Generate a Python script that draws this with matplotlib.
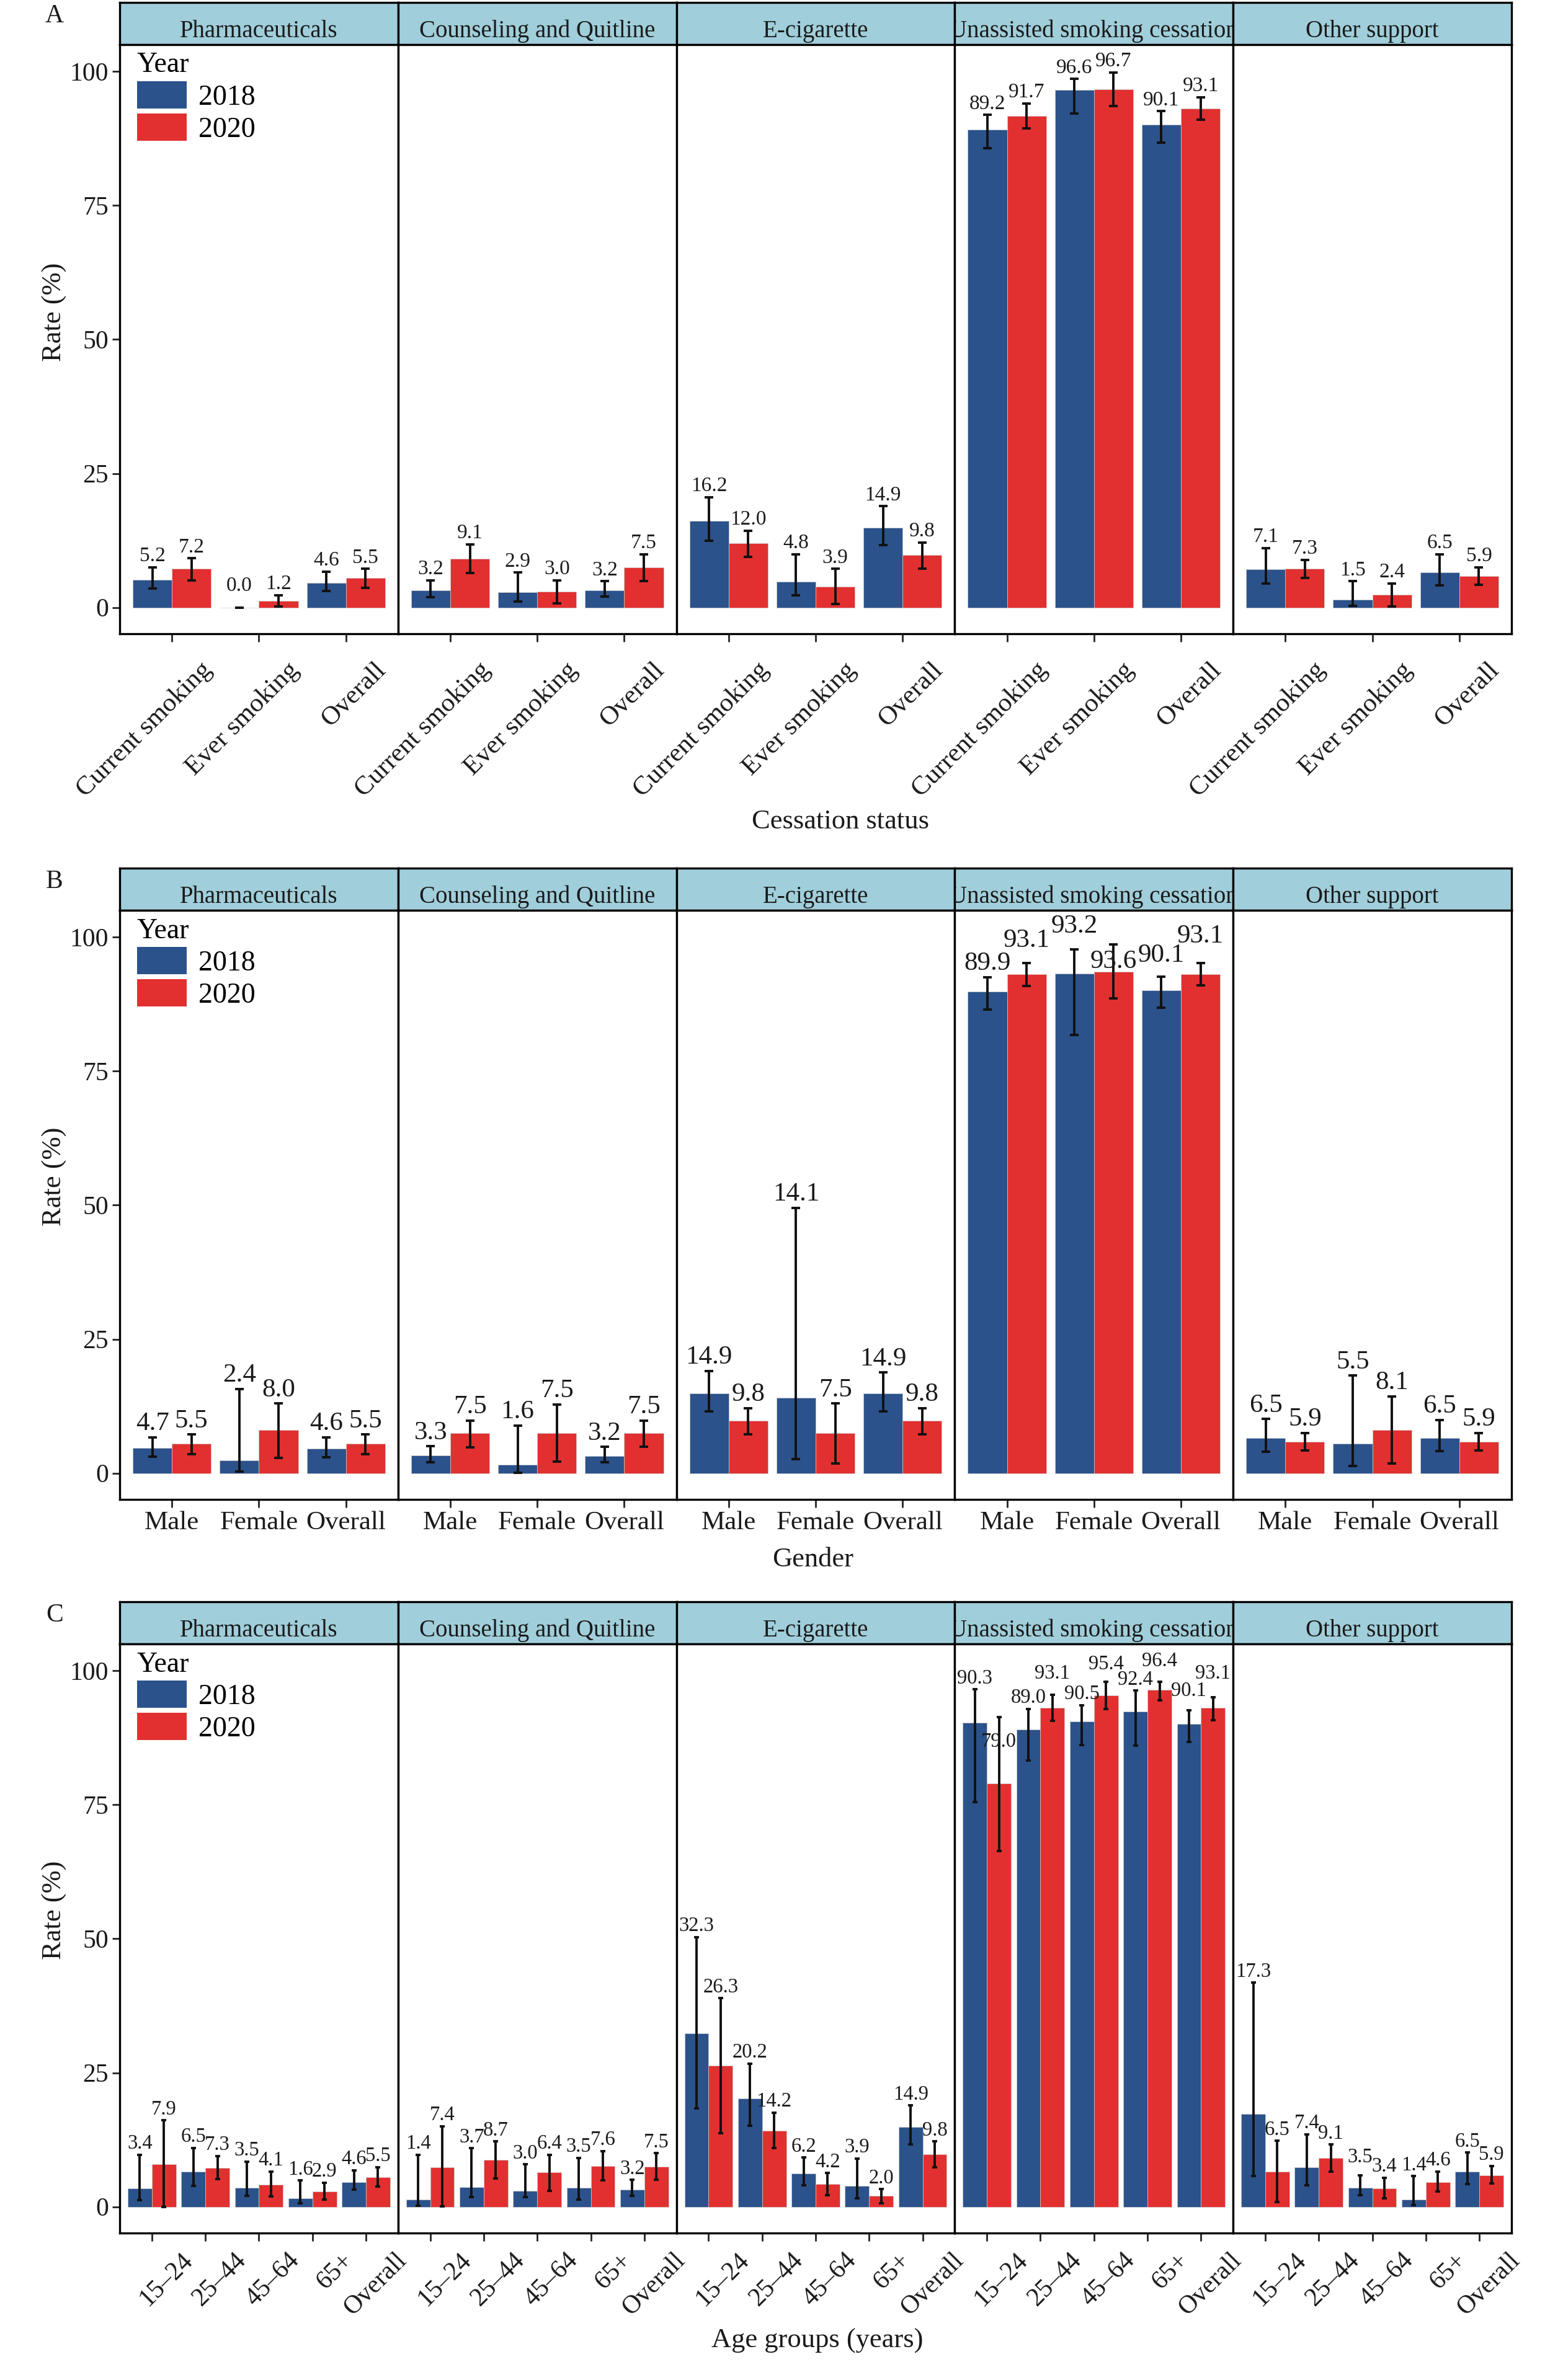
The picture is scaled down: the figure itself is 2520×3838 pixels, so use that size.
import matplotlib
matplotlib.use("Agg")
import matplotlib.pyplot as plt
from matplotlib.patches import Patch
from matplotlib.transforms import ScaledTranslation
import numpy as np

plt.rcParams['font.family'] = ['Liberation Serif', 'DejaVu Serif']

methods = ["Pharmaceuticals", "Counseling and Quitline", "E-cigarette",
           "Unassisted smoking cessation", "Other support"]
years = ["2018", "2020"]

status_labels = ["Current smoking", "Ever smoking", "Overall"]
gender_labels = ["Male", "Female", "Overall"]
age_labels = ["15\u201324", "25\u201344", "45\u201364", "65+", "Overall"]

# panel A: one row per method, one column per cessation status
a_rate_2018 = [[5.2, 0.0, 4.6], [3.2, 2.9, 3.2], [16.2, 4.8, 14.9], [89.2, 96.6, 90.1], [7.1, 1.5, 6.5]]
a_low_2018 = [[3.5, 0.0, 3.1], [1.9, 1.1, 2.0], [12.4, 2.3, 11.6], [85.7, 92.2, 86.7], [4.5, 0.3, 4.1]]
a_high_2018 = [[7.5, 0.0, 6.7], [5.1, 6.5, 4.9], [20.6, 9.9, 18.9], [91.9, 98.6, 92.6], [11.1, 4.9, 9.9]]
a_rate_2020 = [[7.2, 1.2, 5.5], [9.1, 3.0, 7.5], [12.0, 3.9, 9.8], [91.7, 96.7, 93.1], [7.3, 2.4, 5.9]]
a_low_2020 = [[5.1, 0.2, 3.7], [6.4, 0.8, 4.9], [9.5, 0.6, 7.3], [89.4, 93.6, 91.0], [5.5, 0.2, 4.2]]
a_high_2020 = [[9.2, 2.3, 7.2], [11.8, 5.1, 9.9], [14.3, 7.2, 12.1], [94.0, 99.8, 95.2], [8.9, 4.5, 7.5]]

# panel B: gender
b_rate_2018 = [[4.7, 2.4, 4.6], [3.3, 1.6, 3.2], [14.9, 14.1, 14.9], [89.9, 93.2, 90.1], [6.5, 5.5, 6.5]]
b_low_2018 = [[3.1, 0.3, 3.0], [2.0, 0.1, 2.0], [11.5, 2.6, 11.5], [86.5, 81.7, 86.8], [4.0, 1.4, 4.1]]
b_high_2018 = [[6.7, 15.7, 6.7], [5.0, 8.9, 4.9], [19.1, 49.5, 18.8], [92.5, 97.7, 92.6], [10.1, 18.2, 9.9]]
b_rate_2020 = [[5.5, 8.0, 5.5], [7.5, 7.5, 7.5], [9.8, 7.5, 9.8], [93.1, 93.6, 93.1], [5.9, 8.1, 5.9]]
b_low_2020 = [[3.6, 2.9, 3.6], [4.8, 2.1, 4.9], [7.3, 1.8, 7.3], [90.9, 88.6, 91.0], [4.2, 1.8, 4.2]]
b_high_2020 = [[7.2, 13.0, 7.2], [9.8, 12.8, 9.8], [12.1, 13.0, 12.1], [95.2, 98.6, 95.2], [7.5, 14.3, 7.5]]

# panel C: age groups
c_rate_2018 = [[3.4, 6.5, 3.5, 1.6, 4.6], [1.4, 3.7, 3.0, 3.5, 3.2], [32.3, 20.2, 6.2, 3.9, 14.9],
               [90.3, 89.0, 90.5, 92.4, 90.1], [17.3, 7.4, 3.5, 1.4, 6.5]]
c_low_2018 = [[1.2, 3.9, 2.0, 0.6, 3.2], [0.2, 1.8, 1.8, 1.3, 2.0], [18.3, 15.1, 4.0, 1.6, 11.6],
              [75.5, 83.2, 86.1, 86.0, 86.7], [5.7, 4.0, 2.1, 0.3, 4.2]]
c_high_2018 = [[9.7, 11.0, 8.4, 4.9, 6.8], [9.7, 10.9, 7.9, 9.1, 5.0], [50.3, 26.7, 9.2, 9.0, 18.9],
               [96.5, 92.9, 93.6, 96.3, 92.6], [41.8, 13.5, 5.9, 5.7, 10.1]]
c_rate_2020 = [[7.9, 7.3, 4.1, 2.9, 5.5], [7.4, 8.7, 6.4, 7.6, 7.5], [26.3, 14.2, 4.2, 2.0, 9.8],
               [79.0, 93.1, 95.4, 96.4, 93.1], [6.5, 9.1, 3.4, 4.6, 5.9]]
c_low_2020 = [[0.0, 5.2, 1.9, 1.3, 3.8], [0.1, 5.3, 3.0, 4.9, 5.0], [13.7, 10.9, 2.1, 0.7, 7.4],
              [66.4, 90.6, 92.8, 94.5, 90.8], [0.9, 6.6, 1.6, 2.9, 4.3]]
c_high_2020 = [[16.1, 9.5, 6.6, 4.5, 7.4], [15.0, 12.2, 9.7, 10.4, 10.0], [38.9, 17.6, 6.3, 3.3, 12.2],
               [91.4, 95.5, 97.9, 98.0, 95.1], [12.3, 11.6, 5.4, 6.6, 7.6]]

colors = ["#2B528B", "#E23030"]
strip_color = "#A0CEDA"

# labels the original pushed away from the error bar (panel, method, group, year) -> shift
label_nudge = {
    ("A", 0, 1, 0): 2.0,
    ("B", 3, 0, 1): 1.6, ("B", 3, 1, 0): 1.8, ("B", 3, 1, 1): -5.7,
    ("B", 3, 2, 0): 1.4, ("B", 3, 2, 1): 2.5,
    ("C", 3, 0, 1): -6.7, ("C", 3, 1, 1): 1.9, ("C", 3, 2, 1): 1.3,
    ("C", 3, 3, 1): 1.7, ("C", 3, 4, 0): 1.6, ("C", 3, 4, 1): 2.3,
    ("C", 4, 2, 0): 1.3,
}

W, H = 2520, 3838
fig = plt.figure(figsize=(W / 100, H / 100), dpi=100)
edges = np.linspace(193, 2437, 6)


def px_rect(x0, y0, x1, y1):
    return [x0 / W, 1 - y1 / H, (x1 - x0) / W, (y1 - y0) / H]


def draw_panel(top, groups, rates, lows, highs, letter, xlabel, xlabel_pos,
               ylabel_y, value_size, rot_style, cap):
    n = len(groups)
    xpos = np.arange(1, n + 1)
    plot_top = top + 68
    plot_bot = plot_top + 950
    for i, m in enumerate(methods):
        # facet strip
        sax = fig.add_axes(px_rect(edges[i], top, edges[i + 1], plot_top))
        sax.set_facecolor(strip_color)
        sax.set_xticks([])
        sax.set_yticks([])
        for s in sax.spines.values():
            s.set_linewidth(2.4)
        sax.text(0.5, 0.18, m, transform=sax.transAxes, ha='center', va='baseline',
                 fontsize=28, color='#1a1a1a', clip_on=True)

        ax = fig.add_axes(px_rect(edges[i], plot_top, edges[i + 1], plot_bot))
        for j in range(2):
            xs = xpos + (j - 0.5) * 0.45
            v = np.array(rates[j][i])
            lo = np.array(lows[j][i])
            hi = np.array(highs[j][i])
            ax.bar(xs, v, width=0.45, color=colors[j], edgecolor='#d0d0d0',
                   linewidth=0.5, zorder=2)
            ax.errorbar(xs, v, yerr=[v - lo, hi - v], fmt='none', ecolor='#111111',
                        elinewidth=2.8, capsize=cap, capthick=2.8, zorder=3)
            for k, (xx, vv, hh) in enumerate(zip(xs, v, hi)):
                dy = label_nudge.get((letter, i, k, j), 0.0)
                ax.text(xx, hh + 0.3 + dy, f"{vv:.1f}", ha='center', va='bottom',
                        fontsize=value_size, color='#1a1a1a', zorder=4)
        ax.set_xlim(0.4, n + 0.6)
        ax.set_ylim(-4.9, 105)
        for s in ax.spines.values():
            s.set_linewidth(2.4)
        ax.set_xticks(xpos)
        ax.tick_params(axis='x', length=9, width=2, color='#222222')
        if rot_style is not None:
            dx, dyy, fs = rot_style
            ax.set_xticklabels([])
            off = ScaledTranslation(dx, dyy, fig.dpi_scale_trans)
            for xx, g in zip(xpos, groups):
                ax.text(xx, 0, g, transform=ax.get_xaxis_transform() + off,
                        rotation=45, rotation_mode='anchor', ha='right', va='top',
                        fontsize=fs, color='#1a1a1a', clip_on=False)
        else:
            ax.set_xticklabels(groups, fontsize=31, color='#1a1a1a')
            ax.tick_params(axis='x', pad=4)
        if i == 0:
            ax.set_yticks([0, 25, 50, 75, 100])
            ax.set_yticklabels(["0", "25", "50", "75", "100"], fontsize=30,
                               color='#1a1a1a')
            ax.tick_params(axis='y', length=9, width=2, color='#222222', pad=4)
            handles = [Patch(facecolor=c, edgecolor='none') for c in colors]
            ax.legend(handles, years, title="Year", loc='upper left',
                      bbox_to_anchor=((221 - 193) / 449, 1 - 12 / 950),
                      frameon=False, fontsize=33, title_fontsize=33,
                      handlelength=1.75, handleheight=1.09,
                      labelspacing=0.1, handletextpad=0.4,
                      borderpad=0, borderaxespad=0, alignment='left')
        else:
            ax.set_yticks([])

    fig.text(88 / W, 1 - (top + 22) / H, letter, fontsize=30, ha='center',
             va='center', color='#1a1a1a')
    fig.text(88 / W, 1 - ylabel_y / H, "Rate (%)", rotation=90, fontsize=32,
             ha='center', va='center', color='#1a1a1a')
    fig.text(xlabel_pos[0] / W, 1 - xlabel_pos[1] / H, xlabel, fontsize=32,
             ha='center', va='center', color='#1a1a1a')


draw_panel(4, status_labels,
           (a_rate_2018, a_rate_2020), (a_low_2018, a_low_2020), (a_high_2018, a_high_2020),
           "A", "Cessation status", (1355, 1325), 503, 24, (0.45, -0.39, 31), 5)
draw_panel(1400, gender_labels,
           (b_rate_2018, b_rate_2020), (b_low_2018, b_low_2020), (b_high_2018, b_high_2020),
           "B", "Gender", (1311, 2515), 1897, 31, None, 5)
draw_panel(2583, age_labels,
           (c_rate_2018, c_rate_2020), (c_low_2018, c_low_2020), (c_high_2018, c_high_2020),
           "C", "Age groups (years)", (1318, 3775), 3080, 23.5, (0.46, -0.25, 30), 3)

fig.savefig("out.png", dpi=100, facecolor='white')
